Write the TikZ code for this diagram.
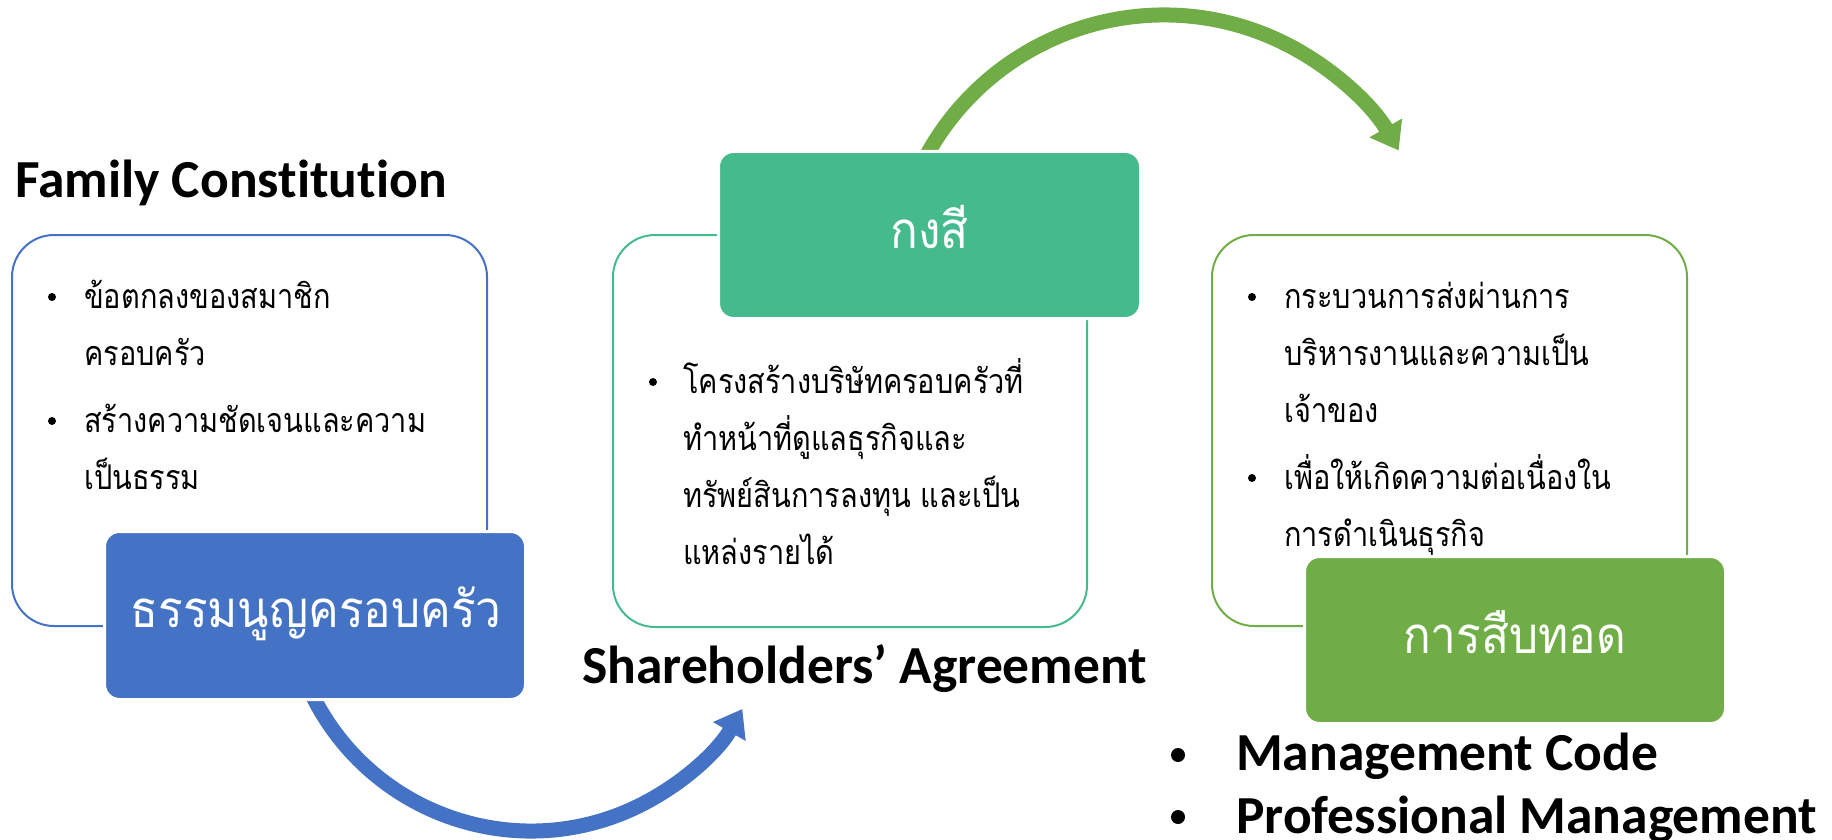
\documentclass[tikz,border=0pt]{standalone}
\usepackage{fontspec}
\usetikzlibrary{arrows.meta}
\newfontfamily\thaifont[Script=Thai,FakeStretch=0.85]{Loma}
\newfontfamily\thaititle[Script=Thai,FakeStretch=0.9]{Loma}
\newfontfamily\calfont[Ligatures=NoCommon]{Carlito}
\definecolor{fcblue}{HTML}{4472C4}
\definecolor{kteal}{HTML}{44BA8D}
\definecolor{sgreen}{HTML}{70AD47}
\begin{document}
\begin{tikzpicture}[x=1pt,y=-1pt,
  outl/.style={draw, line width=2pt, rounded corners=42pt, inner sep=0},
  filled/.style={draw=white, line width=3pt, rounded corners=15pt, inner sep=0},
  boxtitle/.style={anchor=base, inner sep=0, text=white, font=\thaititle\fontsize{51}{60}\selectfont},
  body/.style={anchor=base west, inner sep=0, font=\thaifont\fontsize{34}{40}\selectfont},
  bul/.style={circle, fill=black, inner sep=0, minimum size=8pt},
  bigbul/.style={circle, fill=black, inner sep=0, minimum size=14pt},
  heading/.style={anchor=base west, inner sep=0, font=\calfont\bfseries\fontsize{53.5}{60}\selectfont},
  flow/.style={line width=15pt, -{Triangle[length=26pt,width=36pt]}}
]
\useasboundingbox (0,0) rectangle (1832,840);
% arrows (under the boxes)
\coordinate (bc) at (531,587);
\coordinate (gc) at (1164,286);
\coordinate (bstart) at ([shift={(155:244)}]bc);
\coordinate (gstart) at ([shift={(-152:271)}]gc);
\draw[flow, fcblue] (bstart) arc[start angle=155, end angle=30, radius=244];
\draw[flow, sgreen] (gstart) arc[start angle=-152, end angle=-30, radius=271];
% outline boxes
\node[outl, draw=fcblue, minimum width=475, minimum height=391] (fcout) at (249.5,430.5) {};
\node[outl, draw=kteal, minimum width=474, minimum height=392] (saout) at (850,431) {};
\node[outl, draw=sgreen, minimum width=475, minimum height=391] (mcout) at (1449.5,430.5) {};
% filled boxes
\node[filled, fill=fcblue, minimum width=421, minimum height=168] (fcbox) at (315,615.5) {};
\node[filled, fill=kteal, minimum width=422, minimum height=167] (sabox) at (929.5,235) {};
\node[filled, fill=sgreen, minimum width=421, minimum height=167] (mcbox) at (1515,640) {};
\node[boxtitle] (fctitle) at (316,627) {ธรรมนูญครอบครัว};
\node[boxtitle] (satitle) at (929.5,248) {กงสี};
\node[boxtitle] (mctitle) at (1514.5,653) {การสืบทอด};
% headings
\node[heading] (fchead) at (15,197) {Family Constitution};
\node[heading] (sahead) at (582,683) {Shareholders’ Agreement};
\node[bigbul] (mb1) at (1178,755) {};
\node[bigbul] (mb2) at (1178,817) {};
\node[heading] (mchead1) at (1236,770) {Management Code};
\node[heading] (mchead2) at (1236,833) {Professional Management};
% left body
\node[bul] (lb1) at (52,297) {};
\node[body] (l1) at (84,308) {ข้อตกลงของสมาชิก};
\node[body] (l2) at (84,365) {ครอบครัว};
\node[bul] (lb2) at (52,421) {};
\node[body] (l3) at (84,432) {สร้างความชัดเจนและความ};
\node[body] (l4) at (84,489) {เป็นธรรม};
% middle body
\node[bul] (mbu1) at (653,382) {};
\node[body] (m1) at (683,393) {โครงสร้างบริษัทครอบครัวที่};
\node[body] (m2) at (683,450) {ทำหน้าที่ดูแลธุรกิจและ};
\node[body] (m3) at (683,507) {ทรัพย์สินการลงทุน และเป็น};
\node[body] (m4) at (683,564) {แหล่งรายได้};
% right body
\node[bul] (rb1) at (1252,297) {};
\node[body] (r1) at (1284,308) {กระบวนการส่งผ่านการ};
\node[body] (r2) at (1284,365) {บริหารงานและความเป็น};
\node[body] (r3) at (1284,422) {เจ้าของ};
\node[bul] (rb2) at (1252,478) {};
\node[body] (r4) at (1284,489) {เพื่อให้เกิดความต่อเนื่องใน};
\node[body] (r5) at (1284,546) {การดำเนินธุรกิจ};
\end{tikzpicture}
\end{document}
